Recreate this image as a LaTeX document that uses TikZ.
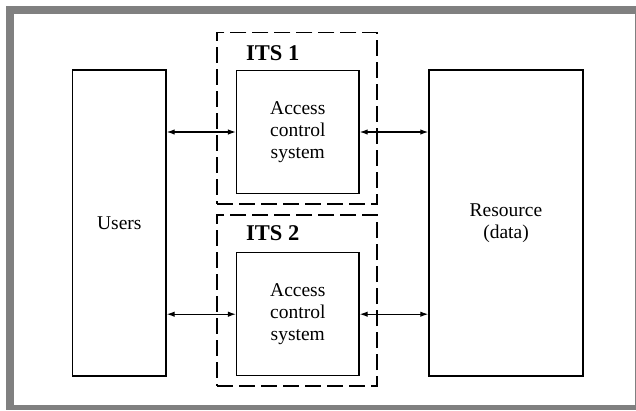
\documentclass[tikz,border=0pt]{standalone}
\usepackage{fontspec}
\setmainfont{Liberation Serif}
\usetikzlibrary{arrows.meta}
\definecolor{framegray}{HTML}{808080}
\begin{document}
\begin{tikzpicture}[x=1pt,y=-1pt,
  blk/.style={draw,line width=1.5pt,minimum width=#1,inner sep=0pt,align=center,
    font=\fontsize{19.5}{21.7}\selectfont},
  itsbox/.style={draw,line width=1.3pt,dash pattern=on 16pt off 6pt,inner sep=0pt},
  itslabel/.style={anchor=base west,inner sep=0pt,font=\fontsize{22.5}{26}\bfseries},
  link/.style={line width=1.2pt,{Latex[length=8pt,width=5.5pt]}-{Latex[length=8pt,width=5.5pt]}}]
\useasboundingbox (0,0) rectangle (636,410);
\fill[framegray] (6,6) rectangle (636,410);
\fill[white] (14,14) rectangle (635,405);
% dashed ITS boxes
\node[itsbox,minimum width=160pt,minimum height=171.3pt] (its1) at (297,118.3) {};
\node[itsbox,minimum width=160pt,minimum height=171pt] (its2) at (297,300.5) {};
\node[itslabel] (l1) at (246,60) {ITS 1};
\node[itslabel] (l2) at (246,240.7) {ITS 2};
% blocks
\node[blk=93.3pt,minimum height=305.7pt] (users) at (119.3,222.9) {Users};
\node[blk=154pt,minimum height=305.7pt] (res) at (506,222.9) {Resource\\(data)};
\node[blk=122.3pt,minimum height=122.6pt] (acs1) at (297.8,132) {Access\\control\\system};
\node[blk=122.3pt,minimum height=123pt] (acs2) at (297.8,314.2) {Access\\control\\system};
% connectors
\draw[link] (users.east |- acs1.west) -- (acs1.west);
\draw[link] (acs1.east) -- (res.west |- acs1.east);
\draw[link] (users.east |- acs2.west) -- (acs2.west);
\draw[link] (acs2.east) -- (res.west |- acs2.east);
\end{tikzpicture}
\end{document}
